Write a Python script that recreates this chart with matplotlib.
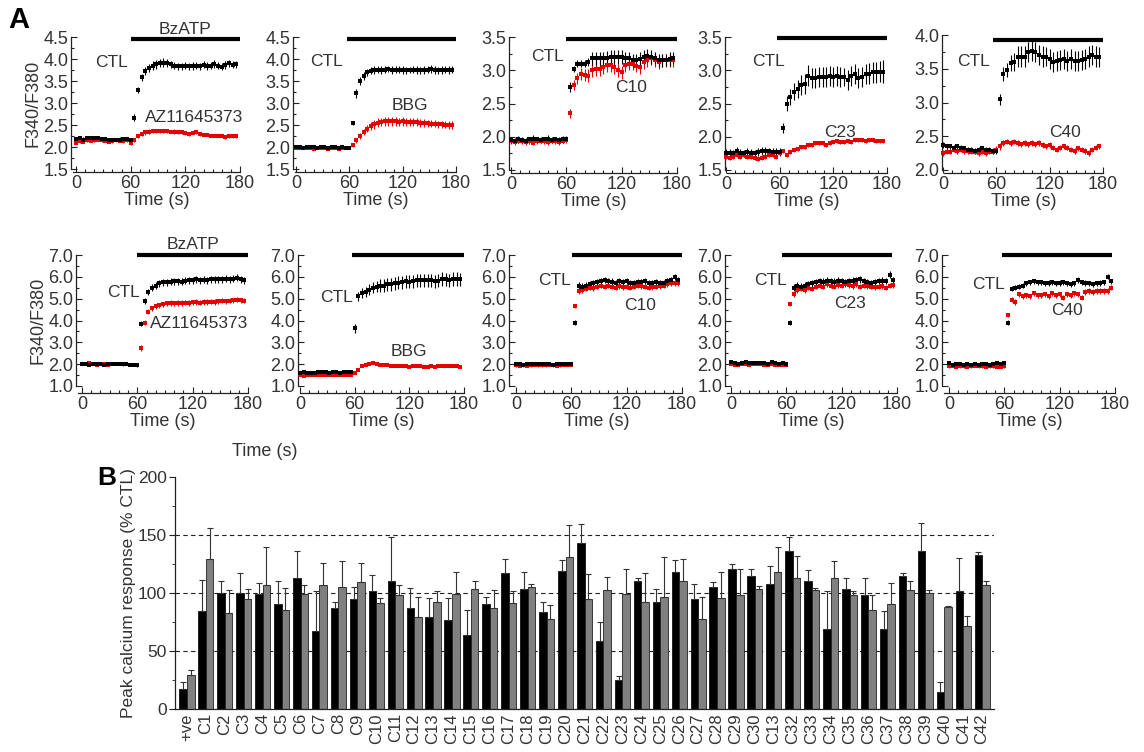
import numpy as np
import matplotlib
matplotlib.use("Agg")
import matplotlib.pyplot as plt
from matplotlib.ticker import MultipleLocator

plt.rcParams['font.family'] = ['Liberation Sans', 'DejaVu Sans']
TXT = '#333333'
RED = '#e60000'

# ---------------- data: panel A (time in s, step 4 s) ----------------
time_s = list(range(0, 180, 4))

T1_ctl = [2.18,2.20,2.17,2.20,2.21,2.20,2.20,2.18,2.18,2.15,2.16,2.17,2.17,2.18,2.18,
          2.16,2.67,3.30,3.58,3.72,3.80,3.85,3.88,3.90,3.92,3.90,3.88,3.85,3.83,3.83,
          3.85,3.83,3.85,3.85,3.83,3.87,3.85,3.85,3.88,3.85,3.82,3.87,3.90,3.87,3.88]
T1_ctl_err = [.04,.04,.05,.04,.04,.05,.04,.04,.04,.05,.04,.04,.05,.04,.04,
              .04,.08,.07,.08,.09,.09,.10,.10,.09,.10,.09,.08,.08,.08,.09,
              .08,.08,.09,.08,.08,.08,.09,.08,.09,.08,.08,.09,.08,.08,.08]
T1_drug = [2.10,2.13,2.12,2.15,2.14,2.15,2.16,2.15,2.14,2.12,2.13,2.15,2.14,2.13,2.15,
           2.08,2.15,2.25,2.30,2.33,2.35,2.37,2.37,2.37,2.36,2.36,2.35,2.35,2.33,2.33,
           2.32,2.30,2.32,2.33,2.30,2.28,2.27,2.26,2.26,2.25,2.25,2.22,2.24,2.25,2.25]
T1_drug_err = [.03,.04,.03,.04,.03,.04,.03,.04,.03,.04,.03,.04,.03,.04,.03,
               .04,.04,.04,.05,.05,.05,.05,.05,.05,.04,.05,.04,.05,.04,.04,
               .04,.04,.03,.04,.04,.03,.03,.04,.03,.03,.03,.03,.03,.04,.04]

T2_ctl = [1.99,2.00,1.98,2.00,2.01,1.99,1.98,2.00,1.99,1.98,1.99,2.00,1.98,1.99,1.98,
          1.98,2.55,3.22,3.50,3.62,3.70,3.73,3.75,3.76,3.75,3.76,3.77,3.75,3.76,3.76,
          3.75,3.74,3.75,3.76,3.75,3.74,3.75,3.76,3.77,3.75,3.74,3.75,3.76,3.75,3.76]
T2_ctl_err = [.03,.03,.03,.03,.03,.03,.03,.03,.03,.03,.03,.03,.03,.03,.03,
              .03,.05,.10,.10,.09,.08,.08,.08,.07,.08,.08,.07,.08,.08,.07,
              .08,.08,.07,.08,.08,.07,.08,.08,.09,.08,.07,.08,.08,.08,.08]
T2_drug = [1.97,1.98,1.97,1.98,1.97,1.96,1.97,1.98,1.97,1.96,1.97,1.97,1.96,1.97,1.97,
           1.98,2.05,2.15,2.25,2.35,2.42,2.48,2.52,2.55,2.57,2.58,2.58,2.58,2.58,2.57,
           2.58,2.57,2.56,2.57,2.56,2.55,2.55,2.54,2.53,2.53,2.52,2.52,2.51,2.50,2.50]
T2_drug_err = [.02,.02,.02,.02,.02,.02,.02,.02,.02,.02,.02,.02,.02,.02,.02,
               .02,.04,.05,.06,.07,.08,.09,.10,.10,.10,.10,.10,.10,.10,.10,
               .10,.09,.09,.09,.09,.09,.09,.08,.08,.08,.08,.08,.08,.08,.08]

T3_ctl = [1.95,1.94,1.96,1.95,1.94,1.96,1.97,1.96,1.95,1.96,1.97,1.95,1.96,1.95,1.96,
          1.97,2.75,3.02,3.10,3.10,3.10,3.12,3.18,3.18,3.18,3.18,3.19,3.20,3.20,3.20,
          3.20,3.18,3.18,3.15,3.15,3.17,3.20,3.22,3.20,3.18,3.15,3.15,3.15,3.17,3.18]
T3_ctl_err = [.04,.04,.05,.04,.04,.04,.05,.04,.04,.04,.05,.04,.04,.04,.05,
              .04,.08,.05,.05,.05,.05,.06,.10,.10,.10,.10,.10,.10,.11,.10,
              .10,.10,.10,.10,.09,.10,.10,.10,.10,.09,.10,.10,.09,.10,.09]
T3_drug = [1.93,1.92,1.94,1.93,1.92,1.93,1.91,1.93,1.94,1.93,1.92,1.94,1.93,1.92,1.94,
           1.95,2.35,2.78,2.88,2.95,2.93,2.92,3.00,3.02,3.02,3.05,3.08,3.08,3.05,3.00,
           2.97,3.08,3.10,3.10,3.07,3.05,3.12,3.15,3.18,3.15,3.12,3.15,3.15,3.15,3.15]
T3_drug_err = [.04,.04,.04,.04,.04,.04,.04,.04,.04,.04,.04,.04,.04,.04,.04,
               .04,.07,.08,.08,.09,.09,.10,.10,.10,.10,.10,.10,.10,.10,.10,
               .10,.10,.10,.10,.10,.10,.10,.10,.10,.10,.10,.10,.10,.10,.10]

T4_ctl = [1.75,1.76,1.75,1.78,1.76,1.75,1.77,1.76,1.75,1.77,1.78,1.79,1.78,1.77,1.77,
          1.77,2.13,2.50,2.60,2.68,2.72,2.78,2.80,2.92,2.88,2.88,2.90,2.90,2.90,2.92,
          2.90,2.92,2.90,2.90,2.85,2.92,2.95,2.88,2.90,2.95,2.95,2.97,2.97,2.98,2.98]
T4_ctl_err = [.06,.06,.05,.06,.06,.05,.06,.06,.05,.06,.06,.06,.05,.06,.06,
              .06,.08,.12,.12,.13,.14,.15,.15,.16,.15,.15,.15,.15,.15,.15,
              .15,.15,.15,.14,.15,.15,.15,.15,.15,.15,.16,.16,.16,.16,.17]
T4_drug = [1.70,1.68,1.70,1.72,1.70,1.72,1.70,1.70,1.68,1.67,1.68,1.70,1.72,1.72,1.70,
           1.75,1.78,1.72,1.77,1.80,1.82,1.85,1.85,1.87,1.88,1.90,1.90,1.90,1.88,1.90,
           1.92,1.93,1.92,1.92,1.93,1.92,1.95,1.95,1.95,1.93,1.95,1.95,1.93,1.93,1.93]
T4_drug_err = [.03,.03,.03,.03,.03,.03,.03,.03,.03,.03,.03,.03,.03,.03,.03,
               .03,.03,.03,.03,.03,.03,.03,.03,.03,.03,.03,.03,.03,.03,.03,
               .03,.03,.03,.03,.03,.03,.03,.03,.03,.03,.03,.03,.03,.03,.03]

T5_ctl = [2.37,2.35,2.35,2.33,2.35,2.33,2.32,2.30,2.30,2.28,2.30,2.32,2.30,2.30,2.28,
          2.28,3.05,3.42,3.48,3.58,3.60,3.68,3.68,3.68,3.75,3.77,3.75,3.70,3.68,3.68,
          3.65,3.60,3.62,3.63,3.65,3.62,3.65,3.62,3.62,3.63,3.65,3.68,3.70,3.68,3.67]
T5_ctl_err = [.04,.04,.04,.04,.04,.04,.04,.04,.04,.04,.04,.04,.04,.04,.04,
              .04,.08,.10,.10,.12,.13,.15,.15,.15,.15,.16,.15,.15,.15,.14,
              .15,.15,.15,.15,.15,.15,.15,.15,.15,.15,.15,.15,.15,.15,.15]
T5_drug = [2.25,2.27,2.27,2.30,2.28,2.30,2.28,2.28,2.27,2.27,2.25,2.27,2.25,2.27,2.27,
           2.30,2.35,2.40,2.42,2.40,2.42,2.40,2.38,2.40,2.38,2.40,2.38,2.40,2.37,2.35,
           2.37,2.33,2.30,2.33,2.35,2.33,2.30,2.28,2.32,2.30,2.28,2.25,2.30,2.33,2.35]
T5_drug_err = [.04,.04,.04,.04,.04,.04,.04,.04,.04,.04,.04,.04,.04,.04,.04,
               .05,.05,.04,.04,.04,.04,.04,.04,.04,.04,.04,.04,.04,.04,.04,
               .04,.04,.04,.04,.04,.04,.04,.04,.04,.04,.04,.04,.04,.04,.04]

B1_ctl = [2.00,2.02,1.98,2.01,2.03,2.00,1.98,2.00,2.02,2.01,2.00,1.99,2.00,1.98,1.97,
          1.95,3.85,4.90,5.30,5.50,5.60,5.70,5.75,5.75,5.78,5.80,5.80,5.78,5.82,5.85,
          5.85,5.88,5.85,5.87,5.85,5.88,5.90,5.88,5.90,5.92,5.88,5.92,5.95,5.90,5.85]
B1_ctl_err = [.06,.06,.06,.06,.06,.06,.06,.06,.06,.06,.06,.06,.06,.06,.06,
              .06,.12,.15,.15,.15,.15,.15,.16,.16,.16,.16,.16,.16,.16,.16,
              .16,.16,.16,.16,.16,.16,.16,.16,.16,.16,.16,.16,.16,.16,.16]
B1_drug = [2.00,2.02,2.05,2.00,1.98,2.02,2.00,1.98,2.00,2.03,2.00,2.01,2.00,1.98,1.97,
           1.98,2.75,3.90,4.40,4.55,4.65,4.70,4.75,4.78,4.80,4.78,4.80,4.80,4.82,4.80,
           4.83,4.85,4.82,4.85,4.85,4.87,4.85,4.88,4.90,4.88,4.90,4.92,4.95,4.92,4.90]
B1_drug_err = [.06,.06,.06,.06,.06,.06,.06,.06,.06,.06,.06,.06,.06,.06,.06,
               .06,.15,.12,.12,.12,.12,.12,.12,.12,.12,.12,.12,.12,.12,.12,
               .12,.12,.12,.12,.12,.12,.12,.12,.12,.12,.12,.12,.12,.12,.12]

B2_ctl = [1.60,1.62,1.60,1.61,1.60,1.62,1.63,1.62,1.61,1.63,1.62,1.61,1.62,1.63,1.64,
          3.65,5.10,5.25,5.30,5.40,5.50,5.55,5.60,5.60,5.65,5.65,5.70,5.72,5.75,5.80,
          5.78,5.80,5.85,5.85,5.85,5.85,5.85,5.80,5.82,5.90,5.88,5.85,5.90,5.90,5.88]
B2_ctl_err = [.06,.06,.06,.06,.06,.06,.06,.06,.06,.06,.06,.06,.06,.06,.06,
              .20,.20,.22,.22,.25,.25,.25,.28,.28,.28,.28,.30,.30,.30,.30,
              .30,.30,.30,.30,.30,.30,.30,.30,.30,.30,.30,.30,.30,.30,.30]
B2_drug = [1.50,1.48,1.50,1.52,1.50,1.49,1.50,1.51,1.50,1.50,1.49,1.50,1.50,1.51,1.50,
           1.60,1.75,1.90,1.98,2.02,2.05,2.00,1.98,1.95,1.97,1.93,1.92,1.90,1.93,1.90,
           1.88,1.90,1.92,1.90,1.88,1.88,1.90,1.88,1.90,1.92,1.90,1.90,1.92,1.90,1.88]
B2_drug_err = [.04,.04,.04,.04,.04,.04,.04,.04,.04,.04,.04,.04,.04,.04,.04,
               .04,.04,.04,.04,.04,.04,.04,.04,.04,.04,.04,.04,.04,.04,.04,
               .04,.04,.04,.04,.04,.04,.04,.04,.04,.04,.04,.04,.04,.04,.04]

B3_ctl = [2.02,2.00,1.98,2.02,2.00,2.01,1.99,2.00,2.02,2.00,1.98,2.00,2.02,2.00,2.03,
          2.00,3.90,5.60,5.55,5.60,5.65,5.70,5.75,5.80,5.85,5.80,5.78,5.72,5.80,5.75,
          5.80,5.72,5.70,5.75,5.75,5.80,5.72,5.70,5.75,5.70,5.72,5.80,5.85,6.00,5.85]
B3_ctl_err = [.07,.07,.07,.07,.07,.07,.07,.07,.07,.07,.07,.07,.07,.07,.07,
              .07,.12,.15,.15,.15,.15,.15,.15,.15,.15,.15,.15,.15,.15,.15,
              .15,.15,.15,.15,.15,.15,.15,.15,.15,.15,.15,.15,.15,.15,.15]
B3_drug = [1.95,1.92,1.95,1.93,1.95,1.97,1.95,1.94,1.95,1.96,1.95,1.93,1.95,1.96,1.97,
           1.98,4.65,5.35,5.40,5.45,5.50,5.48,5.55,5.60,5.55,5.60,5.55,5.50,5.58,5.52,
           5.55,5.50,5.55,5.60,5.58,5.55,5.50,5.52,5.55,5.58,5.60,5.65,5.70,5.72,5.70]
B3_drug_err = [.06,.06,.06,.06,.06,.06,.06,.06,.06,.06,.06,.06,.06,.06,.06,
               .06,.08,.12,.12,.12,.12,.12,.12,.12,.12,.12,.12,.12,.12,.12,
               .12,.12,.12,.12,.12,.12,.12,.12,.12,.12,.12,.12,.12,.12,.12]

B4_ctl = [2.08,2.05,2.02,2.05,2.08,2.06,2.05,2.04,2.06,2.05,2.03,2.08,2.05,2.02,2.05,
          2.03,3.90,5.50,5.60,5.55,5.60,5.65,5.70,5.75,5.80,5.78,5.82,5.80,5.78,5.82,
          5.80,5.75,5.80,5.82,5.85,5.88,5.80,5.75,5.72,5.75,5.80,5.82,5.80,6.10,5.85]
B4_ctl_err = [.06,.06,.06,.06,.06,.06,.06,.06,.06,.06,.06,.06,.06,.06,.06,
              .06,.12,.15,.15,.15,.15,.15,.15,.15,.15,.15,.15,.15,.15,.15,
              .15,.15,.15,.15,.15,.15,.15,.15,.15,.15,.15,.15,.15,.15,.15]
B4_drug = [2.00,1.95,1.98,2.00,2.02,1.98,2.00,2.01,2.00,1.98,1.96,2.00,1.98,1.97,1.95,
           1.95,4.75,5.20,5.40,5.45,5.40,5.50,5.45,5.55,5.60,5.55,5.65,5.60,5.55,5.62,
           5.60,5.65,5.62,5.58,5.65,5.55,5.60,5.58,5.55,5.52,5.55,5.58,5.50,5.60,5.62]
B4_drug_err = [.05,.05,.05,.05,.05,.05,.05,.05,.05,.05,.05,.05,.05,.05,.05,
               .05,.10,.12,.12,.12,.12,.12,.12,.12,.12,.12,.12,.12,.12,.12,
               .12,.12,.12,.12,.12,.12,.12,.12,.12,.12,.12,.12,.12,.12,.12]

B5_ctl = [2.05,1.98,2.00,2.02,1.98,2.00,1.98,2.00,1.98,2.00,2.02,1.98,2.00,2.05,2.02,
          2.05,3.90,5.45,5.50,5.55,5.60,5.70,5.75,5.80,5.75,5.75,5.70,5.72,5.75,5.70,
          5.72,5.75,5.70,5.65,5.70,5.85,5.75,5.72,5.70,5.65,5.70,5.72,5.75,6.00,5.80]
B5_ctl_err = [.08,.08,.08,.08,.08,.08,.08,.08,.08,.08,.08,.08,.08,.08,.08,
              .08,.12,.12,.12,.12,.12,.12,.12,.12,.12,.12,.12,.12,.12,.12,
              .12,.12,.12,.12,.12,.12,.12,.12,.12,.12,.12,.12,.12,.12,.12]
B5_drug = [1.90,1.92,1.88,1.90,1.90,1.88,1.90,1.92,1.90,1.90,1.88,1.90,1.90,1.88,1.88,
           1.90,4.25,4.95,4.85,5.20,5.10,5.15,5.10,5.25,5.15,5.15,5.20,5.10,5.25,5.15,
           5.20,5.05,5.20,5.15,5.25,5.20,5.05,5.30,5.35,5.30,5.35,5.35,5.35,5.35,5.50]
B5_drug_err = [.06,.06,.06,.06,.06,.06,.06,.06,.06,.06,.06,.06,.06,.06,.06,
               .06,.10,.12,.12,.12,.12,.12,.12,.12,.12,.12,.12,.12,.12,.12,
               .12,.12,.12,.12,.12,.12,.12,.12,.12,.12,.12,.12,.12,.12,.12]

drug_names_top = ['AZ11645373', 'BBG', 'C10', 'C23', 'C40']
drug_names_bot = ['AZ11645373', 'BBG', 'C10', 'C23', 'C40']
stim_label = 'BzATP'

# ---------------- data: panel B ----------------
compounds = ['+ve'] + ['C%d' % i for i in range(1, 31)] + ['C13'] + ['C%d' % i for i in range(32, 43)]
black_vals = [17,84.5,100,100,99,90.5,113,67.6,87,95,101.7,110,87,79.7,76.8,64,90.5,117.5,103.7,83.4,
              118.6,142.7,58.7,25.2,110.6,92.5,118.3,94.6,105.4,121,114.6,107.4,136,110,68.8,103.7,
              98.6,69.3,114.6,136.4,14.3,102,133]
black_err = [6,27,10,17,10,20,23,34,5,10,14,38,17,16,19,21,6,12,14,9,10,17,16,3,2,11,10,13,4,4,
             6,16,12,10,33,9,14,15,3,24,9,28,2]
gray_vals = [29,129,83,94.6,106.6,85,99,107,105.4,109.5,91,98.6,79.7,92.5,99,103.7,87.4,91.7,105.4,78,
             131,94.6,102.6,99,92.5,96.3,110.3,77.6,95.4,98.3,103.4,118.3,113,103,113,98.6,85.4,90.5,
             103,99.7,87.7,71.6,107]
gray_err = [5,27,20,9,33,19,8,19,22,16,5,8,17,9,19,7,15,10,2,12,28,22,11,22,25,35,19,19,23,22,
            3,21,19,1,15,3,13,18,7,3,1,9,3]

# ---------------- figure ----------------
W, H = 1144, 752
fig = plt.figure(figsize=(W / 100, H / 100), dpi=100)
TICK_FS = 13
LAB_FS = 13
ANN_FS = 12.5


def make_ax(L, x0, x180, ytop, ybot):
    s = (x180 - x0) / 180.0
    xmin = -(x0 - L) / s
    xmax = 182
    R = x0 + xmax * s
    ax = fig.add_axes([L / W, 1 - ybot / H, (R - L) / W, (ybot - ytop) / H])
    ax.set_xlim(xmin, xmax)
    return ax


def style_time_ax(ax, ylim, ystep, yminor, outward):
    ax.set_ylim(*ylim)
    ax.spines['top'].set_visible(False)
    ax.spines['right'].set_visible(False)
    ax.spines['left'].set_bounds(*ylim)
    ax.spines['bottom'].set_position(('outward', outward))
    ax.spines['bottom'].set_bounds(ax.get_xlim()[0] + 2, 180)
    for sp in ('left', 'bottom'):
        ax.spines[sp].set_linewidth(0.9)
        ax.spines[sp].set_color('#222222')
    ax.set_xticks([0, 60, 120, 180])
    ax.xaxis.set_minor_locator(MultipleLocator(10))
    ax.yaxis.set_major_locator(MultipleLocator(ystep))
    ax.yaxis.set_minor_locator(MultipleLocator(yminor))
    ax.tick_params(which='both', direction='in', colors='#222222', labelcolor=TXT,
                   labelsize=TICK_FS, width=0.8)
    ax.tick_params(which='major', length=4, pad=2)
    ax.tick_params(which='minor', length=2.2)
    ax.yaxis.set_major_formatter(matplotlib.ticker.FormatStrFormatter('%.1f'))
    ax.set_xlabel('Time (s)', fontsize=LAB_FS, color=TXT, labelpad=0)


def plot_series(ax, y, e, color):
    ax.errorbar(time_s, y, yerr=e, fmt='s', color=color, ms=3, mew=0, elinewidth=0.8,
                capsize=1.6, capthick=0.7, clip_on=False, zorder=3)


top_specs = [
    (71, 76, 240, 37, 169, (1.5, 4.5), T1_ctl, T1_ctl_err, T1_drug, T1_drug_err),
    (293, 296, 456, 37, 169, (1.5, 4.5), T2_ctl, T2_ctl_err, T2_drug, T2_drug_err),
    (509, 511, 677, 37, 170, (1.5, 3.5), T3_ctl, T3_ctl_err, T3_drug, T3_drug_err),
    (725, 726, 887, 37, 170, (1.5, 3.5), T4_ctl, T4_ctl_err, T4_drug, T4_drug_err),
    (942, 943, 1103, 35, 170, (2.0, 4.0), T5_ctl, T5_ctl_err, T5_drug, T5_drug_err),
]
top_text = [
    ((60, 180, 4.45), (57, 3.93), (76, 2.67, 'left')),
    ((57, 180, 4.45), (53, 3.95), (128, 2.95, 'center')),
    ((60, 180, 3.47), (57, 3.2), (130, 2.74, 'center')),
    ((57, 180, 3.48), (66, 3.13), (128, 2.06, 'center')),
    ((56, 180, 3.92), (53, 3.6), (137, 2.55, 'center')),
]

for i, spec in enumerate(top_specs):
    L, x0, x180, yt, yb, ylim, c, ce, d, de = spec
    ax = make_ax(L, x0, x180, yt, yb)
    style_time_ax(ax, ylim, 0.5, 0.25, 2.5)
    plot_series(ax, d, de, RED)
    plot_series(ax, c, ce, 'black')
    (b0, b1, by), (cx, cy), (dx, dy, dha) = top_text[i]
    ax.plot([b0, b1], [by, by], color='black', lw=3, clip_on=False, solid_capstyle='butt')
    ax.text(cx, cy, 'CTL', ha='right', va='center', fontsize=ANN_FS, color=TXT)
    ax.text(dx, dy, drug_names_top[i], ha=dha, va='center', fontsize=ANN_FS, color=TXT)
    if i == 0:
        ax.text(120, by + (ylim[1] - ylim[0]) * 0.02, stim_label, ha='center', va='bottom',
                fontsize=ANN_FS, color=TXT, clip_on=False)
        ax.set_ylabel('F340/F380', fontsize=LAB_FS, color=TXT, labelpad=1)

bot_specs = [
    (76, 82, 248, 255, 386, B1_ctl, B1_ctl_err, B1_drug, B1_drug_err),
    (298, 300, 464, 255, 386, B2_ctl, B2_ctl_err, B2_drug, B2_drug_err),
    (509, 516, 682, 255, 386, B3_ctl, B3_ctl_err, B3_drug, B3_drug_err),
    (725, 731, 897, 255, 386, B4_ctl, B4_ctl_err, B4_drug, B4_drug_err),
    (942, 949, 1115, 255, 386, B5_ctl, B5_ctl_err, B5_drug, B5_drug_err),
]
bot_text = [
    ((60, 180, 7.0), (63, 5.3), (74, 3.85, 'left')),
    ((57, 180, 7.0), (58, 5.05), (120, 2.6, 'center')),
    ((61, 180, 7.0), (59, 5.85), (134, 4.7, 'center')),
    ((55, 175, 7.0), (61, 5.85), (129, 4.8, 'center')),
    ((57, 177, 7.0), (61, 5.63), (128, 4.45, 'center')),
]

for i, spec in enumerate(bot_specs):
    L, x0, x180, yt, yb, c, ce, d, de = spec
    ax = make_ax(L, x0, x180, yt, yb)
    style_time_ax(ax, (1.0, 7.0), 1.0, 0.5, 5)
    plot_series(ax, d, de, RED)
    plot_series(ax, c, ce, 'black')
    (b0, b1, by), (cx, cy), (dx, dy, dha) = bot_text[i]
    ax.plot([b0, b1], [by, by], color='black', lw=3, clip_on=False, solid_capstyle='butt')
    ax.text(cx, cy, 'CTL', ha='right', va='center', fontsize=ANN_FS, color=TXT)
    ax.text(dx, dy, drug_names_bot[i], ha=dha, va='center', fontsize=ANN_FS, color=TXT)
    if i == 0:
        ax.text(120, 7.12, stim_label, ha='center', va='bottom', fontsize=ANN_FS, color=TXT,
                clip_on=False)
        ax.set_ylabel('F340/F380', fontsize=LAB_FS, color=TXT, labelpad=1)

fig.text(265 / W, 1 - 451 / H, 'Time (s)', ha='center', va='center', fontsize=LAB_FS, color=TXT)
fig.text(8 / W, 1 - 20 / H, 'A', ha='left', va='center', fontsize=21, fontweight='bold')
fig.text(97 / W, 1 - 478 / H, 'B', ha='left', va='center', fontsize=19, fontweight='bold')

# ---------------- panel B ----------------
axb = fig.add_axes([175 / W, 1 - 709 / H, (994 - 175) / W, (709 - 477) / H])
n = len(compounds)
xs = np.arange(n)
bw = 0.4
axb.bar(xs - bw / 2, black_vals, width=bw, color='black', edgecolor='#111111', linewidth=0.6, zorder=2)
axb.bar(xs + bw / 2, gray_vals, width=bw, color='#808080', edgecolor='#222222', linewidth=0.6, zorder=2)
axb.errorbar(xs - bw / 2, black_vals, yerr=[np.zeros(n), black_err], fmt='none', ecolor='#333333',
             elinewidth=0.8, capsize=2, capthick=0.8, zorder=3)
axb.errorbar(xs + bw / 2, gray_vals, yerr=[np.zeros(n), gray_err], fmt='none', ecolor='#333333',
             elinewidth=0.8, capsize=2, capthick=0.8, zorder=3)
axb.set_xlim(-0.63, n - 1 + 0.63)
axb.set_ylim(0, 200)
for yv in (50, 100, 150):
    axb.axhline(yv, color='#222222', lw=0.8, ls=(0, (4, 3)), zorder=1)
axb.spines['top'].set_visible(False)
axb.spines['right'].set_visible(False)
for sp in ('left', 'bottom'):
    axb.spines[sp].set_linewidth(0.9)
    axb.spines[sp].set_color('#222222')
axb.yaxis.set_major_locator(MultipleLocator(50))
axb.yaxis.set_minor_locator(MultipleLocator(25))
axb.tick_params(axis='y', which='both', direction='out', colors='#222222', labelcolor=TXT, labelsize=12.5)
axb.tick_params(axis='y', which='major', length=4, pad=2)
axb.tick_params(axis='y', which='minor', length=2.5)
axb.set_xticks(xs)
axb.set_xticklabels(compounds, rotation=90, fontsize=12, color=TXT)
axb.tick_params(axis='x', length=0, pad=3)
axb.set_ylabel('Peak calcium response (% CTL)', fontsize=12.5, color=TXT, labelpad=1)

fig.savefig('out.png', dpi=100)
